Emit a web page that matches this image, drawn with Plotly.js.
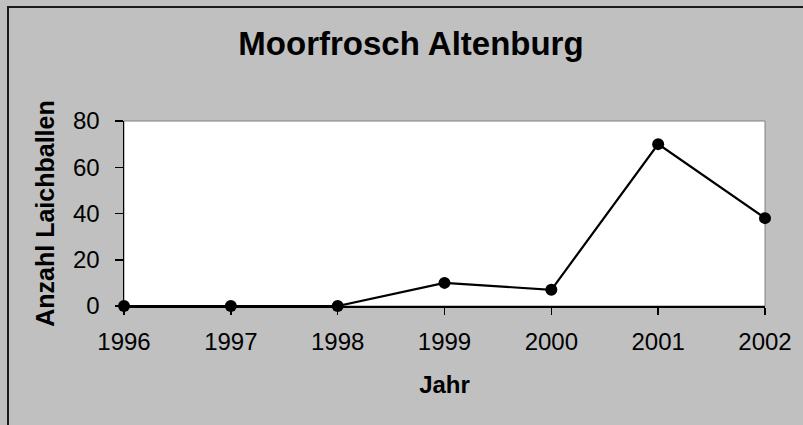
<!DOCTYPE html>
<html>
<head>
<meta charset="utf-8">
<script src="https://cdn.plot.ly/plotly-3.0.1.min.js"></script>
<style>
html,body{margin:0;padding:0;background:#c0c0c0;}
#chart{width:803px;height:425px;}
</style>
</head>
<body>
<div id="chart"></div>
<script>
var years = [1996, 1997, 1998, 1999, 2000, 2001, 2002];
var laichballen = [0, 0, 0, 10, 7, 70, 38];
var yTicks = [0, 20, 40, 60, 80];
var chartTitle = "Moorfrosch Altenburg";
var xTitle = "Jahr";
var yTitle = "Anzahl Laichballen";

var W = 803, H = 425;
var m = {l: 124, r: 38, t: 121, b: 119};
var pw = W - m.l - m.r, ph = H - m.t - m.b;
function px2x(p){ return (p - m.l) / pw; }
function py2y(p){ return (H - m.b - p) / ph; }

var trace = {
  x: years,
  y: laichballen,
  type: 'scatter',
  mode: 'lines+markers',
  line: {color: '#000000', width: 2.2},
  marker: {color: '#000000', size: 12},
  cliponaxis: false,
  hoverinfo: 'x+y'
};

var layout = {
  width: W, height: H,
  margin: m,
  paper_bgcolor: '#c0c0c0',
  plot_bgcolor: '#ffffff',
  showlegend: false,
  font: {family: '"Liberation Sans", Arial, sans-serif', color: '#000000'},
  title: {
    text: '<b>' + chartTitle + '</b>',
    font: {size: 33, family: '"Liberation Sans", Arial, sans-serif', color: '#000000'},
    xref: 'container', yref: 'container',
    x: 411 / W, y: 1 - 43 / H,
    xanchor: 'center', yanchor: 'middle'
  },
  xaxis: {
    range: [years[0], years[years.length - 1]],
    tickmode: 'array',
    tickvals: years,
    ticktext: years.map(String),
    ticks: 'outside', ticklen: 7, tickwidth: 1.5, tickcolor: '#000000',
    ticklabelstandoff: 6,
    tickfont: {size: 24},
    showgrid: false, zeroline: false,
    showline: true, linecolor: '#000000', linewidth: 2,
    title: {text: '<b>' + xTitle + '</b>', font: {size: 24}, standoff: 22},
    automargin: false, fixedrange: true
  },
  yaxis: {
    range: [0, 80],
    tickmode: 'array',
    tickvals: yTicks,
    ticks: 'outside', ticklen: 8, tickwidth: 1.5, tickcolor: '#000000',
    ticklabelstandoff: 10,
    tickfont: {size: 24},
    showgrid: false, zeroline: false,
    showline: true, linecolor: '#000000', linewidth: 1.5,
    title: {text: '<b>' + yTitle + '</b>', font: {size: 25}, standoff: 11},
    automargin: false, fixedrange: true
  },
  shapes: [
    {type: 'rect', xref: 'paper', yref: 'paper', x0: 0, x1: 1, y0: 0, y1: 1,
     line: {color: '#808080', width: 1}, layer: 'below'},
    {type: 'rect', xref: 'paper', yref: 'paper',
     x0: px2x(8), x1: px2x(812), y0: py2y(7), y1: py2y(432),
     line: {color: '#1a1a1a', width: 2}, fillcolor: 'rgba(0,0,0,0)', layer: 'above'}
  ]
};

Plotly.newPlot('chart', [trace], layout, {displayModeBar: false, staticPlot: true});
</script>
</body>
</html>
